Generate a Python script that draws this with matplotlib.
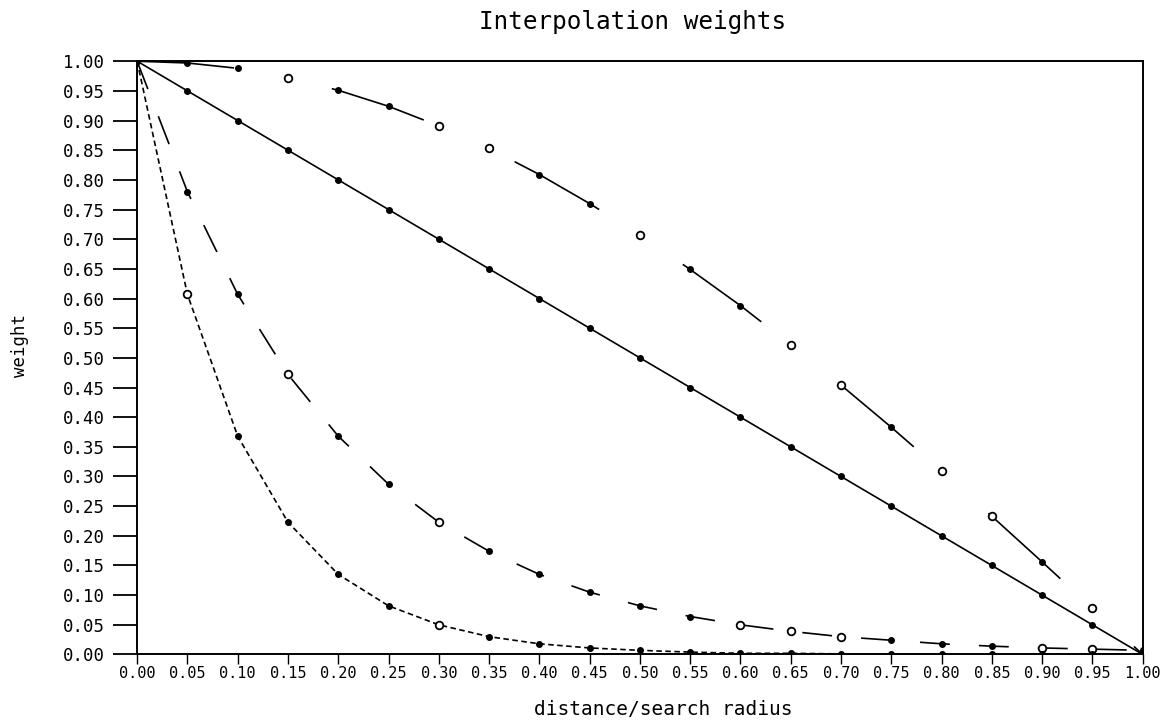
import numpy as np
import matplotlib
matplotlib.use("Agg")
import matplotlib.pyplot as plt

plt.rcParams['font.family'] = ['DejaVu Sans Mono', 'DejaVu Sans']
plt.rcParams['lines.scale_dashes'] = False

# distance / search radius
dist = [0.00, 0.05, 0.10, 0.15, 0.20, 0.25, 0.30, 0.35, 0.40, 0.45, 0.50,
        0.55, 0.60, 0.65, 0.70, 0.75, 0.80, 0.85, 0.90, 0.95, 1.00]

# weight curves
w_linear = [1.00, 0.95, 0.90, 0.85, 0.80, 0.75, 0.70, 0.65, 0.60, 0.55, 0.50,
            0.45, 0.40, 0.35, 0.30, 0.25, 0.20, 0.15, 0.10, 0.05, 0.00]
w_cosine = [1.000, 0.997, 0.988, 0.972, 0.951, 0.924, 0.891, 0.853, 0.809, 0.760, 0.707,
            0.649, 0.588, 0.522, 0.454, 0.383, 0.309, 0.233, 0.156, 0.078, 0.000]
w_exp5 = [1.000, 0.780, 0.607, 0.472, 0.368, 0.287, 0.223, 0.174, 0.135, 0.105, 0.082,
          0.064, 0.050, 0.039, 0.030, 0.024, 0.018, 0.014, 0.011, 0.009, 0.007]
w_exp10 = [1.000, 0.607, 0.368, 0.223, 0.135, 0.082, 0.050, 0.030, 0.018, 0.011, 0.007,
           0.004, 0.002, 0.002, 0.001, 0.001, 0.000, 0.000, 0.000, 0.000, 0.000]

# points plotted as hollow circles on each curve
open_cosine = [3, 6, 7, 10, 13, 14, 16, 17, 19]
open_exp5 = [3, 6, 12, 13, 14, 18, 19]
open_exp10 = [1, 6]
open_linear = []

ticks = [i * 0.05 for i in range(21)]
ticklabels = ['%.2f' % t for t in ticks]

fig = plt.figure(figsize=(11.72, 7.2), dpi=100)
ax = fig.add_axes([0.117, 0.091, 0.858, 0.824])

curves = [
    (w_linear, '-', open_linear),
    (w_cosine, (0, (70, 72)), open_cosine),
    (w_exp5, (0, (21.5, 21)), open_exp5),
    (w_exp10, (0, (4, 2.5)), open_exp10),
]

x = np.array(dist)
for w, ls, opn in curves:
    y = np.array(w)
    ax.plot(x, y, color='black', lw=1.2, linestyle=ls, zorder=2)
    hollow = np.zeros(len(x), dtype=bool)
    hollow[opn] = True
    ax.plot(x[~hollow], y[~hollow], 'o', color='black', ms=4, zorder=3)
    ax.plot(x[hollow], y[hollow], 'o', mfc='white', mec='black', mew=1.3,
            ms=5.5, zorder=3)

ax.set_xlim(0, 1)
ax.set_ylim(0, 1)
ax.set_xticks(ticks)
ax.set_xticklabels(ticklabels, fontsize=11)
ax.set_yticks(ticks)
ax.set_yticklabels(ticklabels, fontsize=12.5)
ax.tick_params(axis='y', direction='out', length=17, width=1.3, pad=6)
ax.tick_params(axis='x', direction='out', length=7, width=1.0, pad=1)
for s in ax.spines.values():
    s.set_linewidth(1.4)

fig.text(0.540, 0.969, 'Interpolation weights', ha='center', va='center', fontsize=17.5)
fig.text(0.566, 0.015, 'distance/search radius', ha='center', va='center', fontsize=14)
fig.text(0.017, 0.52, 'weight', ha='center', va='center', rotation=90, fontsize=12.5)

fig.savefig('out.png', dpi=100, facecolor='white')
